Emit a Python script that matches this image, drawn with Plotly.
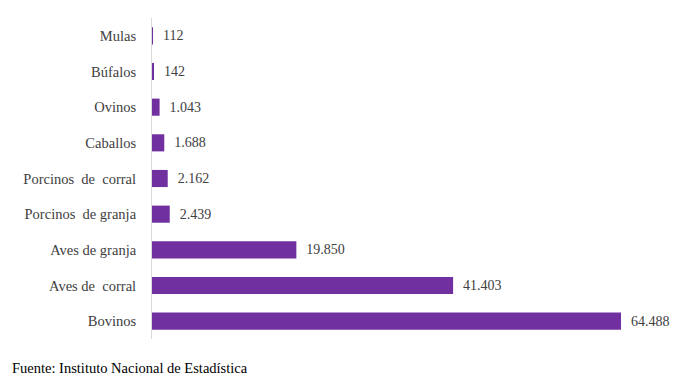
import plotly.graph_objects as go

categories = ["Mulas", "Búfalos", "Ovinos", "Caballos", "Porcinos\u00a0 de\u00a0 corral",
              "Porcinos\u00a0 de granja", "Aves de granja", "Aves de\u00a0 corral", "Bovinos"]
values = [112, 142, 1043, 1688, 2162, 2439, 19850, 41403, 64488]
value_labels = ["\u00a0\u00a0" + f"{v:,}".replace(",", ".") for v in values]

FONT = "Liberation Serif, Times New Roman, serif"
TXT = "#404040"

fig = go.Figure(go.Bar(
    x=values, y=categories, orientation="h",
    marker=dict(color="#7030A0", line=dict(width=0)),
    width=0.48,
    text=value_labels, textposition="outside", cliponaxis=False,
    textfont=dict(family=FONT, size=14, color=TXT),
    hoverinfo="skip",
))

fig.update_layout(
    width=692, height=384,
    margin=dict(l=152, r=12, t=18, b=45),
    paper_bgcolor="white", plot_bgcolor="white",
    showlegend=False,
    font=dict(family=FONT, size=14, color=TXT),
    xaxis=dict(range=[0, 72600], visible=False, showgrid=False, zeroline=False),
    yaxis=dict(autorange="reversed", showline=True, linecolor="#D9D9D9", linewidth=1,
               ticks="", showgrid=False, ticklabelstandoff=12,
               tickfont=dict(family=FONT, size=14.5, color=TXT)),
    annotations=[dict(text="Fuente: Instituto Nacional de Estadística",
                      x=(10 - 152) / 528, y=(384 - 368 - 45) / 321,
                      xref="paper", yref="paper", showarrow=False,
                      font=dict(family=FONT, size=14.5, color="#000000"),
                      xanchor="left", yanchor="middle")],
)

fig.write_html("out.html", config={"displayModeBar": False},
               post_script="document.body.style.margin='0';")
